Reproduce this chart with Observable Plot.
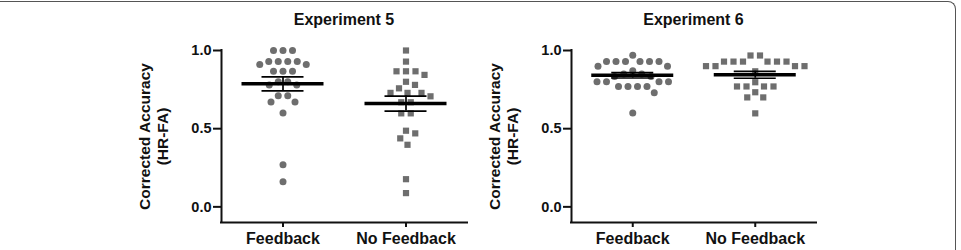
<!DOCTYPE html>
<html>
<head>
<meta charset="utf-8">
<script src="https://cdn.jsdelivr.net/npm/d3@7"></script>
<script src="https://cdn.jsdelivr.net/npm/@observablehq/plot@0.6"></script>
<style>
  body { margin: 0; background: #fff; font-family: "Liberation Sans", Arial, sans-serif; }
  #fig { position: relative; width: 961px; height: 250px; overflow: hidden; background: #fff; }
  #border { position: absolute; left: -10px; top: 1px; width: 966px; height: 320px; box-sizing: border-box;
            border-top: 1.5px solid #555; border-right: 1.5px solid #555; border-top-right-radius: 8px; }
  .panel { position: absolute; top: 0; display: flex; flex-direction: column; }
  .title { height: 30px; box-sizing: border-box; padding-top: 12px; line-height: 15px; font-size: 16px;
           font-weight: bold; text-align: center; color: #111; }
  .panel svg g[aria-label$="tick"], .panel svg g[aria-label$="tick"] * , .panel svg .tick line { stroke-width: 2px; }
  .panel svg g[aria-label="y-axis tick label"] { font-size: 14.5px; }
</style>
</head>
<body>
<div id="fig"><div id="border"></div></div>
<script>
// ---- data ----
const experiments = ["Experiment 5", "Experiment 6"];
const categories = ["Feedback", "No Feedback"];
const yTicks = [0, 0.5, 1.0];
const yLabel = "Corrected Accuracy\n(HR-FA)";

const exp5Feedback = [1.0, 1.0, 1.0, 0.93, 0.93, 0.93, 0.93, 0.91, 0.91, 0.867, 0.867, 0.867,
  0.80, 0.80, 0.78, 0.78, 0.71, 0.71, 0.67, 0.67, 0.60, 0.27, 0.16];
const exp5NoFeedback = [1.0, 0.929, 0.867, 0.867, 0.867, 0.844, 0.80, 0.78, 0.758, 0.729, 0.729, 0.729,
  0.707, 0.669, 0.669, 0.598, 0.598, 0.487, 0.47, 0.438, 0.397, 0.177, 0.088];
const exp6Feedback = [0.97, 0.93, 0.93, 0.93, 0.93, 0.93, 0.93, 0.90, 0.90, 0.87, 0.85, 0.85,
  0.833, 0.833, 0.80, 0.80, 0.80, 0.80, 0.77, 0.77, 0.77, 0.77, 0.73, 0.60];
const exp6NoFeedback = [0.968, 0.968, 0.929, 0.929, 0.929, 0.929, 0.929, 0.929, 0.90, 0.90, 0.90, 0.90,
  0.867, 0.797, 0.77, 0.77, 0.77, 0.77, 0.733, 0.70, 0.70, 0.598];

// ---- layout helpers ----
// symmetric beeswarm (GraphPad-like scatter dot plot): offsets in pixels
function swarm(values, pxPerY, D) {
  const sorted = values.slice().sort((a, b) => b - a);
  const placed = [];
  const out = [];
  for (const [v, g] of d3.groups(sorted, d => d)) {
    const y = v * pxPerY;
    const free = a => placed.every(p => (p.x - a) ** 2 + (p.y - y) ** 2 >= D * D - 1e-6);
    const put = a => { placed.push({x: a, y}); out.push({value: v, off: a}); };
    let n = g.length, next;
    if (n % 2 === 1) {
      let a = 0;
      while (!free(a) && !free(-a)) a += 0.25;
      put(free(a) ? a : -a);
      n -= 1; next = D;
    } else next = D / 2;
    while (n > 0) {
      let a = next;
      while (!(free(a) && free(-a))) a += 0.25;
      put(-a); put(a);
      n -= 2; next = a + D;
    }
  }
  return out;
}

function panel(title, series, left, width, marginLeft, marginRight) {
  const height = 220, marginTop = 20, marginBottom = 28;
  const pxPerY = (height - marginTop - marginBottom) / 1.1;
  const pxPerX = (width - marginLeft - marginRight) / 2;
  const pts = [], stats = [];
  series.forEach((vals, k) => {
    const cat = k + 1;
    for (const p of swarm(vals, pxPerY, 9.5)) pts.push({cat, value: p.value, x: cat + p.off / pxPerX});
    const mean = d3.mean(vals), sem = d3.deviation(vals) / Math.sqrt(vals.length);
    stats.push({cat, mean, lo: mean - sem, hi: mean + sem});
  });
  const capW = 21 / pxPerX, meanW = 41 / pxPerX;
  const dotColor = "#6e6e6e";
  const chart = Plot.plot({
    width, height, marginTop, marginBottom, marginLeft, marginRight,
    style: {fontFamily: "Liberation Sans, Arial, sans-serif", fontSize: "16px", fontWeight: "bold", color: "#111", background: "transparent", overflow: "visible"},
    x: {domain: [0.5, 2.5], ticks: [1, 2], tickFormat: i => categories[i - 1], tickSize: 5, tickPadding: 5, label: null},
    y: {domain: [-0.1, 1.0], ticks: yTicks, tickFormat: d3.format(".1f"), tickSize: 8, tickPadding: 2, label: null},
    marks: [
      Plot.dot(pts.filter(d => d.cat === 1), {x: "x", y: "value", r: 3.5, fill: dotColor, symbol: "circle"}),
      Plot.dot(pts.filter(d => d.cat === 2), {x: "x", y: "value", r: 3.5, fill: dotColor, symbol: "square"}),
      Plot.ruleX(stats, {x: "cat", y1: "lo", y2: "hi", stroke: "#000", strokeWidth: 1.7}),
      Plot.ruleY(stats, {y: "lo", x1: d => d.cat - capW, x2: d => d.cat + capW, stroke: "#000", strokeWidth: 1.7}),
      Plot.ruleY(stats, {y: "hi", x1: d => d.cat - capW, x2: d => d.cat + capW, stroke: "#000", strokeWidth: 1.7}),
      Plot.ruleY(stats, {y: "mean", x1: d => d.cat - meanW, x2: d => d.cat + meanW, stroke: "#000", strokeWidth: 3.5}),
      Plot.ruleX([0.5], {stroke: "#111", strokeWidth: 2, strokeLinecap: "square"}),
      Plot.ruleY([-0.1], {stroke: "#111", strokeWidth: 2, strokeLinecap: "square"}),
      Plot.text([yLabel], {text: d => d, frameAnchor: "left", rotate: -90, dx: -68, textAnchor: "middle",
        lineHeight: 1.15, fontSize: 15.5, fontWeight: "bold", fill: "#111"})
    ]
  });
  const div = document.createElement("div");
  div.className = "panel";
  div.style.left = left + "px";
  div.style.width = width + "px";
  const t = document.createElement("div");
  t.className = "title";
  t.style.marginLeft = marginLeft + "px";
  t.style.width = (width - marginLeft - marginRight) + "px";
  t.textContent = title;
  div.appendChild(t);
  div.appendChild(chart);
  document.getElementById("fig").appendChild(div);
}

panel(experiments[0], [exp5Feedback, exp5NoFeedback], 0, 480, 221, 13);
panel(experiments[1], [exp6Feedback, exp6NoFeedback], 480, 481, 91, 145);
</script>
</body>
</html>
